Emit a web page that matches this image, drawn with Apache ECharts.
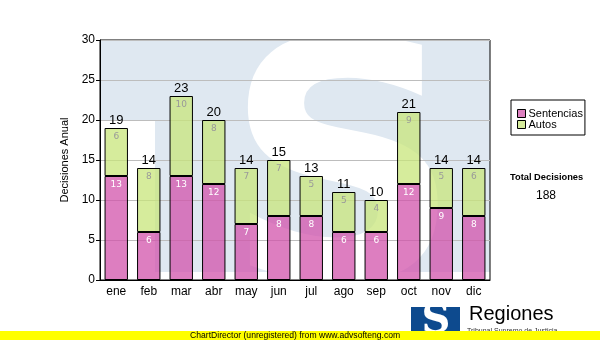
<!DOCTYPE html>
<html><head><meta charset="utf-8">
<script src="https://cdn.jsdelivr.net/npm/echarts@6/dist/echarts.min.js"></script>
<style>html,body{margin:0;padding:0;background:#fff}#c{width:600px;height:340px}</style>
</head><body><div id="c"></div>
<script>
const months = ['ene','feb','mar','abr','may','jun','jul','ago','sep','oct','nov','dic'];
const sentencias = [13,6,13,12,7,8,8,6,6,12,9,8];
const autos = [6,8,10,8,7,7,5,5,4,9,5,6];
const totals = [19,14,23,20,14,15,13,11,10,21,14,14];
const yTicks = [0,5,10,15,20,25,30];
const totalDecisiones = 188;

const chart = echarts.init(document.getElementById('c'), null, {renderer:'canvas'});
const F = 'Liberation Sans, Arial, sans-serif';
const V = 'DejaVu Sans, Verdana, sans-serif';
chart.setOption({
  animation:false,
  backgroundColor:'#fff',
  grid:{left:100,right:110,top:40,bottom:60,show:true,borderColor:'#000',borderWidth:1,backgroundColor:'transparent'},
  graphic:[
    {type:'rect',z:-10,shape:{x:100,y:40,width:390,height:80},style:{fill:'#dfe8f1'}},
    {type:'rect',z:-10,shape:{x:155,y:120,width:335,height:152},style:{fill:'#dfe8f1'}},
    {type:'text',z:-9,x:343,y:192,style:{text:'S',font:'bold 330px DejaVu Sans',fill:'#ffffff',align:'center',verticalAlign:'middle'}},
    {type:'rect',z:-8,shape:{x:100,y:272,width:390,height:68},style:{fill:'#fff'}},
    {type:'rect',z:-8,shape:{x:100,y:0,width:390,height:40},style:{fill:'#fff'}},
    {type:'rect',z:-8,shape:{x:490,y:0,width:110,height:340},style:{fill:'#fff'}},
    {type:'text',left:510,top:173,style:{text:'Total Decisiones',font:'bold 9.3px '+F,fill:'#000'}},
    {type:'text',left:536,top:190,style:{text:String(totalDecisiones),font:'12px '+F,fill:'#000'}},
    {type:'rect',z:5,shape:{x:0,y:331,width:600,height:9},style:{fill:'#ffff00'}},
    {type:'text',z:6,left:190,top:331,style:{text:'ChartDirector (unregistered) from www.advsofteng.com',font:'8.6px '+F,fill:'#000'}},
    {type:'rect',z:4,shape:{x:411,y:307,width:49,height:30},style:{fill:'#0d4a8e'}},
    {type:'text',z:4,x:436,y:322,style:{text:'S',font:'bold 40px DejaVu Serif',fill:'#fff',align:'center',verticalAlign:'middle'}},
    {type:'text',z:4,left:469,top:304,style:{text:'Regiones',font:'20px '+F,fill:'#000'}},
    {type:'text',z:4,left:467,top:328,style:{text:'Tribunal Supremo de Justicia',font:'7px '+F,fill:'#333'}}
  ],
  legend:{
    orient:'vertical',left:511,top:100,
    padding:[8,2,5,6],
    borderColor:'#000',borderWidth:1,
    itemWidth:8,itemHeight:8,itemGap:0,
    textStyle:{fontFamily:F,fontSize:11,color:'#000',padding:[0,0,0,-2]},
    data:[
      {name:'Sentencias',icon:'rect',itemStyle:{color:'#dd80c0',borderColor:'#000',borderWidth:1}},
      {name:'Autos',icon:'rect',itemStyle:{color:'#d6ec9c',borderColor:'#000',borderWidth:1}}
    ]
  },
  xAxis:{
    type:'category',data:months,
    axisLine:{lineStyle:{color:'#000'}},
    axisTick:{alignWithLabel:true,length:4,lineStyle:{color:'#000'}},
    axisLabel:{fontFamily:F,fontSize:12,color:'#000',margin:6}
  },
  yAxis:{
    type:'value',min:yTicks[0],max:yTicks[yTicks.length-1],interval:5,
    name:'Decisiones Anual',nameLocation:'middle',nameGap:18,
    nameTextStyle:{fontFamily:F,fontSize:11,color:'#000'},
    axisLine:{show:true,lineStyle:{color:'#000'}},
    axisTick:{show:true,length:4,lineStyle:{color:'#000'}},
    axisLabel:{fontFamily:F,fontSize:12,color:'#000',margin:5},
    splitLine:{lineStyle:{color:'#bdbdbd'}}
  },
  series:[
    {name:'Sentencias',type:'bar',stack:'a',data:sentencias,barWidth:'72%',
      itemStyle:{color:'rgba(210,83,171,0.75)',borderColor:'#000',borderWidth:1},
      label:{show:true,position:'insideTop',distance:4,color:'#fff',fontFamily:V,fontSize:9}},
    {name:'Autos',type:'bar',stack:'a',data:autos,barWidth:'72%',
      itemStyle:{color:'rgba(200,230,123,0.75)',borderColor:'#000',borderWidth:1},
      label:{show:true,position:'insideTop',distance:4,color:'#999',fontFamily:V,fontSize:9}},
    {name:'Total',type:'bar',data:totals,barWidth:'72%',barGap:'-100%',z:1,silent:true,
      itemStyle:{color:'rgba(0,0,0,0)'},
      label:{show:true,position:'top',distance:1,color:'#000',fontFamily:F,fontSize:13}}
  ]
});
</script></body></html>
